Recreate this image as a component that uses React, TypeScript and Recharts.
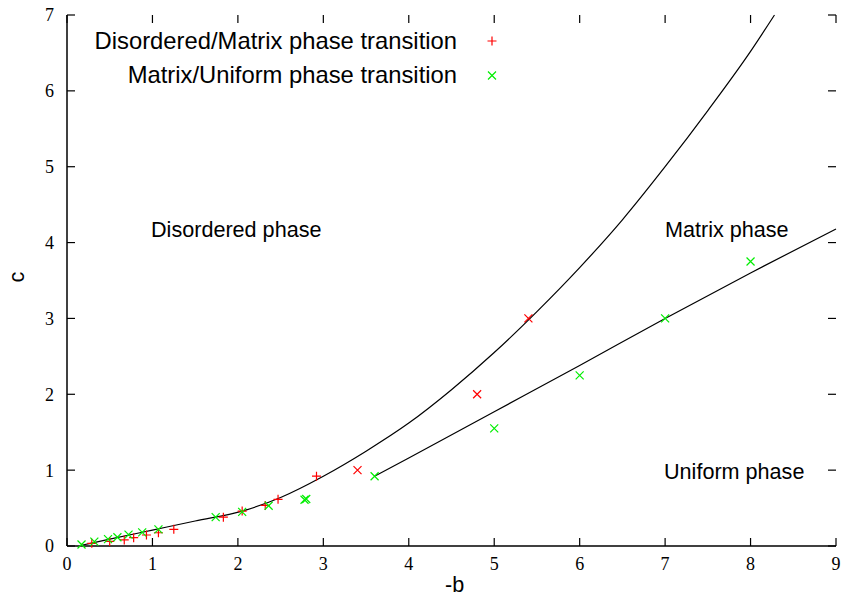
import {
  ComposedChart,
  Line,
  Scatter,
  XAxis,
  YAxis,
} from "recharts"

// Disordered/Matrix transition points (red +)
const dmX = [0.29, 0.5, 0.67, 0.78, 0.93, 1.07, 1.25, 1.83, 2.05, 2.32, 2.47, 2.92]
const dmY = [0.035, 0.06, 0.08, 0.11, 0.145, 0.175, 0.22, 0.38, 0.46, 0.535, 0.615, 0.92]

// Disordered/Matrix points drawn with an x marker (red x)
const dmCrossX = [3.4, 4.8, 5.4]
const dmCrossY = [1.0, 2.0, 3.0]

// Matrix/Uniform transition points (green x)
const muX = [0.17, 0.32, 0.48, 0.59, 0.72, 0.88, 1.07, 1.74, 2.05, 2.36, 2.78, 2.8, 3.6, 5.0, 6.0, 7.0, 8.0]
const muY = [0.02, 0.057, 0.09, 0.115, 0.15, 0.18, 0.22, 0.38, 0.45, 0.53, 0.61, 0.62, 0.92, 1.55, 2.25, 3.0, 3.75]

// fitted curves
const upperX = [0.17, 0.5, 1.0, 1.5, 2.05, 2.5, 3.0, 3.5, 4.0, 4.5, 5.0, 5.5, 6.0, 6.5, 7.0, 7.5, 8.0, 8.28]
const upperY = [0.01, 0.09, 0.21, 0.33, 0.46, 0.64, 0.92, 1.25, 1.62, 2.06, 2.55, 3.09, 3.67, 4.3, 5.0, 5.74, 6.52, 7.0]
const lowerX = [3.6, 4, 5, 6, 7, 8, 9]
const lowerY = [0.92, 1.16, 1.77, 2.38, 3.0, 3.6, 4.18]

const xTicks = [0, 1, 2, 3, 4, 5, 6, 7, 8, 9]
const yTicks = [0, 1, 2, 3, 4, 5, 6, 7]

const zip = (xs: number[], ys: number[]) => xs.map((x, i) => ({ x, y: ys[i] }))

const RED = "#ff0000"
const GREEN = "#00ee00"
const SANS = "'Liberation Sans', Arial, sans-serif"
const SERIF = "'Liberation Serif', 'Times New Roman', serif"
const TICK = 8

const Plus = (props: any) => {
  const { cx, cy } = props
  if (cx == null || cy == null) return null
  return (
    <path d={`M${cx - 4.5},${cy}H${cx + 4.5}M${cx},${cy - 4.5}V${cy + 4.5}`} stroke={RED} strokeWidth={1.2} />
  )
}

const makeCross = (color: string) => (props: any) => {
  const { cx, cy } = props
  if (cx == null || cy == null) return null
  return (
    <path
      d={`M${cx - 4},${cy - 4}L${cx + 4},${cy + 4}M${cx - 4},${cy + 4}L${cx + 4},${cy - 4}`}
      stroke={color}
      strokeWidth={1.2}
    />
  )
}

// gnuplot-style inward ticks, placed through the chart scales
const tickMark = (dx: number, dy: number) => (props: any) => {
  const { cx, cy } = props
  if (cx == null || cy == null) return null
  return <path d={`M${cx},${cy}L${cx + dx},${cy + dy}`} stroke="#000" strokeWidth={1.2} fill="none" />
}

const tickFont = { fontFamily: SERIF, fontSize: 18, fill: "#000" }

const label = (text: string, left: number, cy: number, size = 21.6) => (
  <div
    style={{
      position: "absolute",
      left,
      top: cy - size / 2,
      fontFamily: SANS,
      fontSize: size,
      lineHeight: 1,
      whiteSpace: "nowrap",
      color: "#000",
    }}
  >
    {text}
  </div>
)

const legendText = (text: string, cy: number) => (
  <div
    style={{
      position: "absolute",
      right: 841 - 457,
      top: cy - 12,
      fontFamily: SANS,
      fontSize: 23.8,
      lineHeight: 1,
      whiteSpace: "nowrap",
    }}
  >
    {text}
  </div>
)

const axisLine = { stroke: "#000", strokeWidth: 1.5 }

export default function App() {
  return (
    <div style={{ position: "absolute", left: 0, top: 0, width: 841, height: 597, background: "#fff" }}>
      <ComposedChart width={841} height={597} margin={{ top: 15, right: 5, bottom: 0, left: 0 }}>
        <XAxis
          type="number"
          dataKey="x"
          domain={[0, 9]}
          ticks={xTicks}
          height={51}
          tickLine={false}
          tickSize={0}
          tickMargin={11}
          axisLine={axisLine}
          tick={tickFont}
        />
        <XAxis
          xAxisId="top"
          orientation="top"
          type="number"
          dataKey="x"
          domain={[0, 9]}
          ticks={xTicks}
          height={0}
          tickLine={false}
          tick={false}
          axisLine={axisLine}
        />
        <YAxis
          type="number"
          dataKey="y"
          domain={[0, 7]}
          ticks={yTicks}
          width={67}
          tickLine={false}
          tickSize={0}
          tickMargin={13}
          axisLine={axisLine}
          tick={tickFont}
        />
        <YAxis
          yAxisId="right"
          orientation="right"
          type="number"
          dataKey="y"
          domain={[0, 7]}
          ticks={yTicks}
          width={0}
          tickLine={false}
          tick={false}
          axisLine={axisLine}
        />
        <Scatter data={xTicks.map((x) => ({ x, y: 0 }))} dataKey="y" shape={tickMark(0, -TICK)} isAnimationActive={false} />
        <Scatter data={xTicks.map((x) => ({ x, y: 7 }))} dataKey="y" shape={tickMark(0, TICK)} isAnimationActive={false} />
        <Scatter data={yTicks.map((y) => ({ x: 0, y }))} dataKey="y" shape={tickMark(TICK, 0)} isAnimationActive={false} />
        <Scatter data={yTicks.map((y) => ({ x: 9, y }))} dataKey="y" shape={tickMark(-TICK, 0)} isAnimationActive={false} />
        <Line
          data={zip(upperX, upperY)}
          dataKey="y"
          type="monotone"
          stroke="#000"
          strokeWidth={1.2}
          dot={false}
          activeDot={false}
          isAnimationActive={false}
        />
        <Line
          data={zip(lowerX, lowerY)}
          dataKey="y"
          type="monotone"
          stroke="#000"
          strokeWidth={1.2}
          dot={false}
          activeDot={false}
          isAnimationActive={false}
        />
        <Scatter data={zip(dmX, dmY)} dataKey="y" shape={Plus} isAnimationActive={false} />
        <Scatter data={zip(dmCrossX, dmCrossY)} dataKey="y" shape={makeCross(RED)} isAnimationActive={false} />
        <Scatter data={zip(muX, muY)} dataKey="y" shape={makeCross(GREEN)} isAnimationActive={false} />
      </ComposedChart>

      {/* legend, top left inside the plot */}
      {legendText("Disordered/Matrix phase transition", 41)}
      {legendText("Matrix/Uniform phase transition", 75)}
      <svg style={{ position: "absolute", left: 482, top: 30 }} width={20} height={56}>
        <Plus cx={10} cy={11} />
        {makeCross(GREEN)({ cx: 10, cy: 45.5 })}
      </svg>

      {label("Disordered phase", 151, 230)}
      {label("Matrix phase", 665, 230)}
      {label("Uniform phase", 664, 472)}
      {label("-b", 445, 585)}
      <div
        style={{
          position: "absolute",
          left: 17 - 10,
          top: 277 - 10,
          width: 20,
          height: 20,
          fontFamily: SANS,
          fontSize: 21.6,
          lineHeight: "20px",
          textAlign: "center",
          transform: "rotate(-90deg)",
        }}
      >
        c
      </div>
    </div>
  )
}
